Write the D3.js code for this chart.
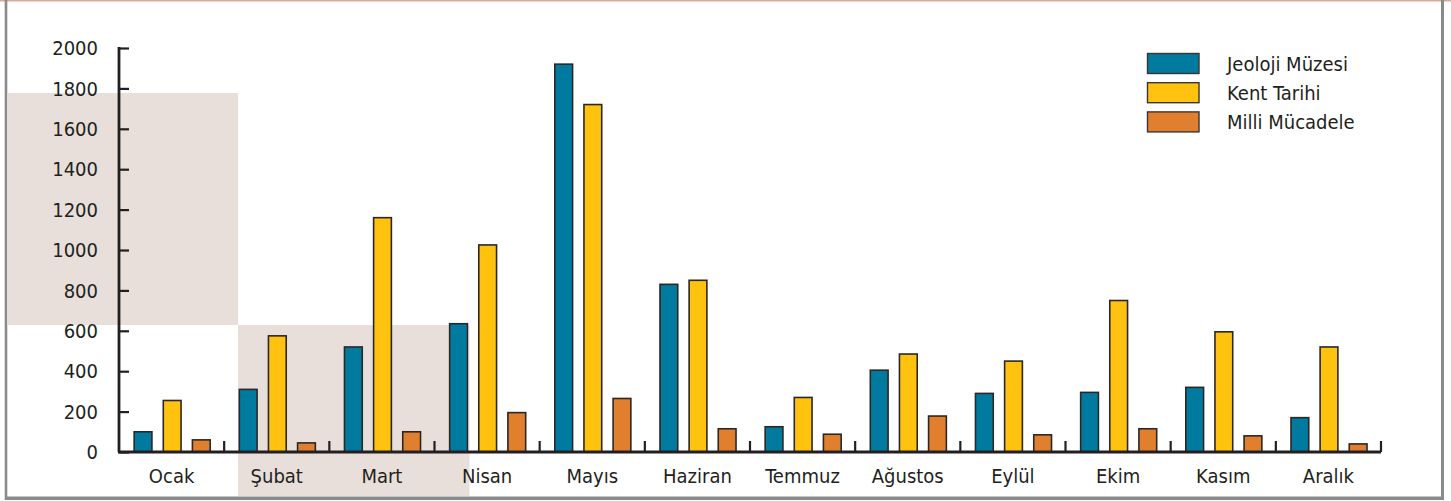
<!DOCTYPE html>
<html><head><meta charset="utf-8">
<script src="https://cdn.jsdelivr.net/npm/d3@7"></script>
<style>
html,body{margin:0;padding:0;background:#fff;}
svg text{font-family:"DejaVu Sans Condensed","DejaVu Sans",sans-serif;fill:#231f20;}
</style></head>
<body>
<svg id="chart" width="1451" height="501"></svg>
<script>
const months = ["Ocak","Şubat","Mart","Nisan","Mayıs","Haziran","Temmuz","Ağustos","Eylül","Ekim","Kasım","Aralık"];
const seriesNames = ["Jeoloji Müzesi","Kent Tarihi","Milli Mücadele"];
const jeoloji = [100,310,520,635,1920,830,125,405,290,295,320,170];
const kentTarihi = [255,575,1160,1025,1720,850,270,485,450,750,595,520];
const milliMucadele = [60,45,100,195,265,115,88,178,85,115,80,40];
const colors = ["#007b9f","#ffc20e","#e0802e"];
const yTicks = [0,200,400,600,800,1000,1200,1400,1600,1800,2000];

const seriesValues = [jeoloji, kentTarihi, milliMucadele];
const svg = d3.select("#chart");

// frame
svg.append("line").attr("x1",0).attr("x2",1451).attr("y1",0.8).attr("y2",0.8).attr("stroke","#d9a999").attr("stroke-width",1.6);
svg.append("line").attr("x1",6).attr("x2",6).attr("y1",0).attr("y2",500).attr("stroke","#8a8a8a").attr("stroke-width",2.6);
svg.append("line").attr("x1",1442.5).attr("x2",1442.5).attr("y1",0).attr("y2",500).attr("stroke","#8a8a8a").attr("stroke-width",3);
svg.append("line").attr("x1",5).attr("x2",1444).attr("y1",498.3).attr("y2",498.3).attr("stroke","#8a8a8a").attr("stroke-width",3.4);

// background shaded blocks
svg.append("rect").attr("x",7.3).attr("y",93).attr("width",230.7).attr("height",232).attr("fill","#e8dfda");
svg.append("rect").attr("x",238).attr("y",325).attr("width",231.5).attr("height",171).attr("fill","#e8dfda");

const x0 = d3.scaleBand().domain(months).range([119,1381]).paddingInner(0).paddingOuter(0);
const x1 = d3.scaleBand().domain(seriesNames).range([0,x0.bandwidth()]).paddingInner(0.39).paddingOuter(0.5).align(0.52);
const y = d3.scaleLinear().domain([0,2000]).range([452,48]);

// bars
const g = svg.append("g");
months.forEach((m,i)=>{
  seriesNames.forEach((s,j)=>{
    const v = seriesValues[j][i];
    g.append("rect")
      .attr("x", x0(m)+x1(s))
      .attr("y", y(v))
      .attr("width", x1.bandwidth())
      .attr("height", y(0)-y(v))
      .attr("fill", colors[j])
      .attr("stroke","#2b2727")
      .attr("stroke-width",1.6);
  });
});

// y axis
const yAxis = d3.axisRight(y).tickValues(yTicks).tickSize(10).tickFormat("");
const ya = svg.append("g").attr("transform","translate(119,0)").call(yAxis);
ya.select(".domain").attr("stroke","#231f20").attr("stroke-width",2.8).attr("d","M0,47V452");
ya.selectAll(".tick line").attr("stroke","#231f20").attr("stroke-width",2.2);
svg.append("g").selectAll("text").data(yTicks).join("text")
  .attr("x",98).attr("y",d=>y(d)).attr("dy","0.36em")
  .attr("text-anchor","end").attr("font-size",20).text(d=>d);

// x axis
svg.append("line").attr("x1",118).attr("x2",1381).attr("y1",452).attr("y2",452).attr("stroke","#231f20").attr("stroke-width",2.8);
const bounds = months.map(m=>x0(m)+x0.bandwidth());
svg.append("g").selectAll("line").data(bounds).join("line")
  .attr("x1",d=>d).attr("x2",d=>d).attr("y1",452).attr("y2",441)
  .attr("stroke","#231f20").attr("stroke-width",2.2);
svg.append("g").selectAll("text").data(months).join("text")
  .attr("x",d=>x0(d)+x0.bandwidth()/2).attr("y",483)
  .attr("text-anchor","middle").attr("font-size",20).text(d=>d);

// legend
const lg = svg.append("g");
seriesNames.forEach((s,i)=>{
  lg.append("rect").attr("x",1147.5).attr("y",53.5+i*29.2).attr("width",51.5).attr("height",20)
    .attr("fill",colors[i]).attr("stroke","#3a3535").attr("stroke-width",1.4);
  lg.append("text").attr("x",1227).attr("y",63.5+i*29.2).attr("dy","0.36em")
    .attr("font-size",20).text(s);
});
</script>
</body></html>
